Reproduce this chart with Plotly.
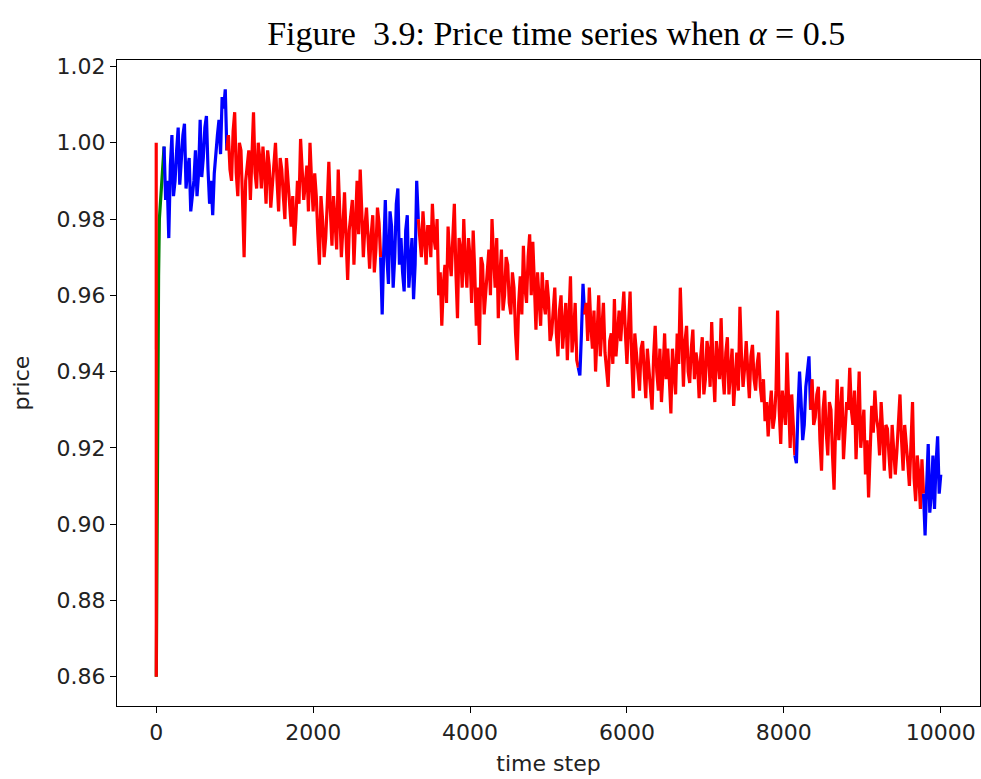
import plotly.graph_objects as go

# ---- data ----
HEAD_TIMES = [0, 1, 15, 30]
HEAD_PRICES = [1.000, 0.860, 0.935, 0.965]

STEP = 40  # main samples at t = 40, 80, ..., 10000; mid samples at t = 60, 100, ..., 9980
MAIN_PRICES = [
    # 40 .. 880
    0.980, 0.991, 0.985, 0.975, 1.002, 0.990, 1.004, 0.996, 1.005, 0.993,
    0.982, 0.990, 0.986, 1.006, 0.996, 1.007, 0.984, 0.981, 0.998, 1.006,
    1.012, 1.014,
    # 920 .. 2840
    1.002, 0.990, 1.008, 0.986, 0.998, 0.970, 0.995, 0.985, 1.008, 0.988,
    0.996, 0.999, 0.984, 0.994, 0.988, 1.000, 0.982, 0.993, 0.980, 0.990,
    0.978, 0.973, 0.990, 1.001, 0.985, 0.994, 1.000, 0.982, 0.986, 0.968,
    0.980, 0.975, 0.995, 0.973, 0.978, 0.993, 0.970, 0.987, 0.964, 0.982,
    0.968, 0.990, 0.993, 0.970, 0.983, 0.967, 0.981, 0.972, 0.979,
    # 2880 .. 3320
    0.955, 0.985, 0.963, 0.978, 0.970, 0.988, 0.975, 0.961, 0.981, 0.970,
    0.959, 0.990,
    # 3360 .. 4440
    0.975, 0.982, 0.968, 0.978, 0.984, 0.972, 0.960, 0.952, 0.968, 0.978,
    0.965, 0.984, 0.954, 0.972, 0.980, 0.962, 0.970, 0.977, 0.952, 0.947,
    0.968, 0.960, 0.972, 0.980, 0.962, 0.954, 0.972, 0.960,
    # 4480 .. 5360
    0.968, 0.955, 0.962, 0.943, 0.965, 0.973, 0.958, 0.976, 0.974, 0.951,
    0.960, 0.966, 0.955, 0.959, 0.950, 0.962, 0.944, 0.960, 0.952, 0.943,
    0.965, 0.950, 0.943,
    # 5400 .. 5440
    0.939, 0.963,
    # 5480 .. 6480
    0.958, 0.962, 0.946, 0.940, 0.960, 0.952, 0.945, 0.936, 0.950, 0.959,
    0.950, 0.948, 0.961, 0.942, 0.961, 0.933, 0.945, 0.935, 0.948, 0.933,
    0.940, 0.930, 0.952, 0.935, 0.932, 0.950,
    # 6520 .. 8120
    0.946, 0.929, 0.940, 0.950, 0.962, 0.936, 0.952, 0.937, 0.951, 0.945,
    0.933, 0.949, 0.938, 0.945, 0.953, 0.932, 0.944, 0.954, 0.934, 0.949,
    0.940, 0.931, 0.945, 0.957, 0.936, 0.948, 0.933, 0.947, 0.935, 0.945,
    0.932, 0.927, 0.923, 0.935, 0.928, 0.956, 0.921, 0.930, 0.945, 0.920,
    0.925,
    # 8160 .. 8320
    0.916, 0.940, 0.922, 0.936, 0.944,
    # 8360 .. 9760
    0.938, 0.928, 0.936, 0.914, 0.935, 0.918, 0.930, 0.909, 0.938, 0.930,
    0.917, 0.932, 0.941, 0.926, 0.917, 0.940, 0.926, 0.913, 0.907, 0.931,
    0.935, 0.925, 0.932, 0.914, 0.925, 0.912, 0.920, 0.919, 0.934, 0.914,
    0.922, 0.910, 0.932, 0.906, 0.913, 0.917,
    # 9800 .. 10000
    0.897, 0.921, 0.908, 0.904, 0.923, 0.913,
]

MID_PRICES = [
    # 60 .. 900
    0.986, 0.999, 0.990, 0.994, 0.986, 0.998, 0.989, 1.002, 0.988, 0.996,
    0.987, 0.998, 0.992, 0.991, 1.004, 0.993, 0.990, 0.992, 1.002, 0.997,
    1.009, 0.998,
    # 940 .. 2860
    0.993, 1.003, 0.992, 1.000, 0.985, 0.990, 0.998, 0.996, 0.992, 1.000,
    0.988, 0.993, 0.998, 0.983, 0.995, 0.990, 0.996, 0.986, 0.996, 0.984,
    0.986, 0.980, 0.984, 0.993, 0.989, 0.982, 0.990, 0.992, 0.976, 0.986,
    0.970, 0.984, 0.982, 0.986, 0.972, 0.981, 0.978, 0.975, 0.977, 0.985,
    0.980, 0.976, 0.982, 0.978, 0.975, 0.976, 0.966, 0.983, 0.970,
    # 2900 .. 3340
    0.972, 0.970, 0.982, 0.962, 0.984, 0.968, 0.966, 0.977, 0.962, 0.975,
    0.968, 0.980,
    # 3380 .. 4460
    0.970, 0.975, 0.978, 0.970, 0.975, 0.980, 0.966, 0.963, 0.958, 0.970,
    0.975, 0.966, 0.975, 0.962, 0.968, 0.975, 0.958, 0.966, 0.962, 0.970,
    0.955, 0.966, 0.960, 0.970, 0.975, 0.965, 0.956, 0.970,
    # 4500 .. 5380
    0.958, 0.966, 0.950, 0.958, 0.955, 0.962, 0.970, 0.960, 0.963, 0.966,
    0.952, 0.958, 0.964, 0.948, 0.958, 0.950, 0.956, 0.946, 0.958, 0.955,
    0.945, 0.958, 0.941,
    # 5420 .. 5460
    0.950, 0.955,
    # 5500 .. 6500
    0.948, 0.952, 0.956, 0.950, 0.944, 0.958, 0.940, 0.948, 0.942, 0.944,
    0.956, 0.954, 0.950, 0.952, 0.944, 0.950, 0.938, 0.946, 0.940, 0.946,
    0.936, 0.944, 0.940, 0.946, 0.940, 0.938,
    # 6540 .. 8140
    0.938, 0.946, 0.934, 0.942, 0.945, 0.948, 0.940, 0.946, 0.938, 0.942,
    0.944, 0.934, 0.948, 0.936, 0.940, 0.948, 0.938, 0.940, 0.945, 0.934,
    0.946, 0.940, 0.935, 0.944, 0.941, 0.940, 0.944, 0.938, 0.942, 0.936,
    0.938, 0.932, 0.930, 0.925, 0.935, 0.930, 0.935, 0.926, 0.932, 0.934,
    0.918,
    # 8180 .. 8340
    0.930, 0.932, 0.926, 0.940, 0.930,
    # 8380 .. 9780
    0.926, 0.934, 0.922, 0.930, 0.924, 0.932, 0.918, 0.926, 0.922, 0.936,
    0.925, 0.930, 0.930, 0.935, 0.928, 0.920, 0.930, 0.922, 0.920, 0.924,
    0.928, 0.918, 0.924, 0.926, 0.918, 0.926, 0.913, 0.925, 0.922, 0.926,
    0.916, 0.922, 0.912, 0.918, 0.904, 0.908,
    # 9820 .. 9980
    0.910, 0.903, 0.918, 0.916, 0.908,
]

# regime changes: (start time, colour)
REGIME_STARTS = [0, 1, 100, 890, 2860, 3340, 5380, 5450, 8140, 8330, 9780]
REGIME_COLORS = ["#ff0000", "#008000", "#0000ff", "#ff0000", "#0000ff", "#ff0000",
                 "#0000ff", "#ff0000", "#0000ff", "#ff0000", "#0000ff"]

X_TICKS = [0, 2000, 4000, 6000, 8000, 10000]
X_TICK_TEXT = ["0", "2000", "4000", "6000", "8000", "10000"]
Y_TICKS = [0.86, 0.88, 0.90, 0.92, 0.94, 0.96, 0.98, 1.00, 1.02]

TITLE = "Figure  3.9: Price time series when <i>α</i> = 0.5"

# ---- build series ----
times = list(HEAD_TIMES)
prices = list(HEAD_PRICES)
for i, p in enumerate(MAIN_PRICES):
    times.append(STEP * (i + 1))
    prices.append(p)
    if i < len(MID_PRICES):
        times.append(STEP * (i + 1) + STEP // 2)
        prices.append(MID_PRICES[i])


def regime_color(t):
    c = REGIME_COLORS[0]
    for s, col in zip(REGIME_STARTS, REGIME_COLORS):
        if t >= s:
            c = col
    return c


LW = 3.2
traces = []
seg_x, seg_y = [times[0]], [prices[0]]
cur = regime_color(times[0])
for i in range(1, len(times)):
    col = regime_color(times[i - 1])
    if col != cur:
        traces.append((seg_x, seg_y, cur))
        seg_x, seg_y = [times[i - 1]], [prices[i - 1]]
        cur = col
    seg_x.append(times[i])
    seg_y.append(prices[i])
traces.append((seg_x, seg_y, cur))
# the initial red drop is drawn on top, as in the reference
traces = traces[1:] + traces[:1]

fig = go.Figure()
for sx, sy, c in traces:
    fig.add_trace(go.Scatter(x=sx, y=sy, mode="lines", line=dict(color=c, width=LW),
                             showlegend=False, hoverinfo="skip"))

fig.update_layout(
    width=981, height=779,
    margin=dict(l=117, r=1, t=60, b=73),
    paper_bgcolor="white", plot_bgcolor="white",
    title=dict(text=TITLE, x=0.567, xanchor="center", y=0.957, yanchor="middle",
               font=dict(family="Liberation Serif, Times New Roman, serif", size=34, color="black")),
    font=dict(family="DejaVu Sans, sans-serif", size=22, color="#222"),
)
fig.update_xaxes(
    range=[-500, 10500], tickvals=X_TICKS, ticktext=X_TICK_TEXT,
    showgrid=False, zeroline=False, showline=True, linecolor="black", linewidth=1.2,
    mirror=True, ticks="outside", ticklen=6, tickcolor="black",
    tickfont=dict(size=22),
    title=dict(text="time step", standoff=12, font=dict(size=22)),
)
fig.update_yaxes(
    range=[0.8523, 1.0217], tickvals=Y_TICKS, tickformat=".2f",
    showgrid=False, zeroline=False, showline=True, linecolor="black", linewidth=1.2,
    mirror=True, ticks="outside", ticklen=6, tickcolor="black",
    tickfont=dict(size=22),
    title=dict(text="price", standoff=20, font=dict(size=22)),
)

fig.write_html("out.html")
